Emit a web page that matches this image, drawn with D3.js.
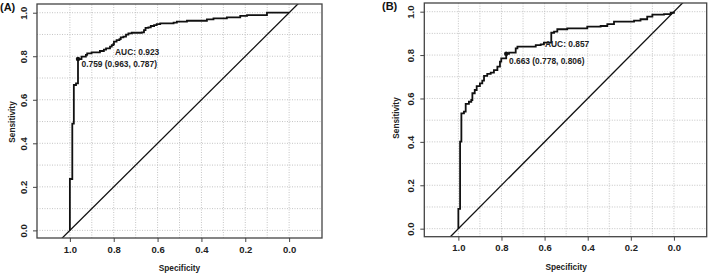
<!DOCTYPE html>
<html>
<head>
<meta charset="utf-8">
<script src="https://cdn.jsdelivr.net/npm/d3@7"></script>
<style>
  body { margin: 0; background: #fff; }
  svg { display: block; font-family: "Liberation Sans", Arial, sans-serif; }
</style>
</head>
<body>
<div id="chart"></div>
<script>
// ROC curve A (specificity, sensitivity)
var specA = [1.000, 1.000, 0.989, 0.989, 0.982, 0.982, 0.972, 0.972, 0.963, 0.963,
  0.954, 0.947, 0.927, 0.921, 0.901, 0.870, 0.863, 0.845, 0.835, 0.817, 0.809, 0.802,
  0.799, 0.787, 0.774, 0.768, 0.756, 0.744, 0.733, 0.718, 0.672, 0.662, 0.655, 0.642,
  0.631, 0.616, 0.604, 0.588, 0.527, 0.512, 0.466, 0.405, 0.375, 0.345, 0.284, 0.223,
  0.192, 0.101, 0.101, 0.000];
var sensA = [0.000, 0.236, 0.236, 0.490, 0.490, 0.668, 0.668, 0.675, 0.675, 0.787,
  0.787, 0.798, 0.806, 0.813, 0.818, 0.818, 0.824, 0.830, 0.836, 0.844, 0.851, 0.855,
  0.867, 0.874, 0.879, 0.887, 0.890, 0.899, 0.905, 0.908, 0.910, 0.920, 0.930, 0.933,
  0.939, 0.943, 0.948, 0.951, 0.954, 0.959, 0.963, 0.963, 0.969, 0.974, 0.979, 0.985,
  0.989, 0.994, 1.000, 1.000];

// ROC curve B
var specB = [1.000, 1.000, 0.992, 0.992, 0.986, 0.986, 0.974, 0.974, 0.966, 0.951,
  0.940, 0.935, 0.924, 0.915, 0.900, 0.889, 0.881, 0.866, 0.850, 0.835, 0.819, 0.807,
  0.801, 0.778, 0.765, 0.734, 0.726, 0.649, 0.641, 0.618, 0.603, 0.572, 0.569, 0.556,
  0.541, 0.495, 0.402, 0.340, 0.309, 0.278, 0.185, 0.155, 0.124, 0.100, 0.046, 0.015, 0.000];
var sensB = [0.000, 0.091, 0.091, 0.401, 0.401, 0.531, 0.531, 0.539, 0.575, 0.585,
  0.593, 0.624, 0.639, 0.657, 0.670, 0.682, 0.704, 0.713, 0.719, 0.731, 0.747, 0.770,
  0.785, 0.806, 0.811, 0.831, 0.839, 0.839, 0.846, 0.849, 0.857, 0.857, 0.903, 0.908,
  0.919, 0.923, 0.931, 0.934, 0.943, 0.954, 0.959, 0.965, 0.977, 0.986, 0.989, 0.995, 1.000];

// best thresholds and AUC
var panelNames = ["(A)", "(B)"];
var aucValues = ["0.923", "0.857"];
var thresholds = ["0.759", "0.663"];
var bestSpec = [0.963, 0.778];
var bestSens = [0.787, 0.806];

var xTicks = [1.0, 0.8, 0.6, 0.4, 0.2, 0.0];
var yTicks = [0.0, 0.2, 0.4, 0.6, 0.8, 1.0];
var gridVals = d3.range(0, 11).map(function(i) { return i / 10; });

var width = 709, height = 275;

var svg = d3.select("#chart").append("svg")
  .attr("width", width)
  .attr("height", height);

// layout for each panel
var panels = [
  { spec: specA, sens: sensA,
    xDom: [1.15, -0.15], xRange: [37, 322], yDom: [-0.035, 1.04], yRange: [238, 4],
    labelX: 0, labelY: 11, ytlX: 23, ytitleX: 12, ytitleY: 122, xtlY: 249, xtitleY: 268,
    aucPos: [0.794, 0.818], thrPos: [0.947, 0.764] },
  { spec: specB, sens: sensB,
    xDom: [1.158, -0.152], xRange: [424.3, 706.7], yDom: [-0.037, 1.04], yRange: [236.7, 3],
    labelX: 382, labelY: 10, ytlX: 410, ytitleX: 396, ytitleY: 118, xtlY: 247, xtitleY: 267,
    aucPos: [0.598, 0.850], thrPos: [0.765, 0.773] }
];

panels.forEach(function(p, i) {
  var x = d3.scaleLinear().domain(p.xDom).range(p.xRange);
  var y = d3.scaleLinear().domain(p.yDom).range(p.yRange);
  var g = svg.append("g");

  // dotted grid
  g.selectAll(".vgrid").data(gridVals).enter().append("line")
    .attr("x1", function(d) { return x(d); })
    .attr("x2", function(d) { return x(d); })
    .attr("y1", p.yRange[0]).attr("y2", p.yRange[1])
    .attr("stroke", "#bdbdbd").attr("stroke-width", 0.9)
    .attr("stroke-dasharray", "1,1.5");
  g.selectAll(".hgrid").data(gridVals).enter().append("line")
    .attr("y1", function(d) { return y(d); })
    .attr("y2", function(d) { return y(d); })
    .attr("x1", p.xRange[0]).attr("x2", p.xRange[1])
    .attr("stroke", "#bdbdbd").attr("stroke-width", 0.9)
    .attr("stroke-dasharray", "1,1.5");

  // clip for the diagonal
  var clipId = "clip" + i;
  svg.append("clipPath").attr("id", clipId).append("rect")
    .attr("x", p.xRange[0]).attr("y", p.yRange[1])
    .attr("width", p.xRange[1] - p.xRange[0])
    .attr("height", p.yRange[0] - p.yRange[1]);

  // chance line
  g.append("line")
    .attr("clip-path", "url(#" + clipId + ")")
    .attr("x1", x(1.2)).attr("y1", y(-0.2))
    .attr("x2", x(-0.2)).attr("y2", y(1.2))
    .attr("stroke", "#111").attr("stroke-width", 1.3);

  // ROC curve
  var pts = p.spec.map(function(s, k) { return [s, p.sens[k]]; });
  var line = d3.line()
    .x(function(d) { return x(d[0]); })
    .y(function(d) { return y(d[1]); })
    .curve(d3.curveStepAfter);
  g.append("path")
    .datum(pts)
    .attr("d", line)
    .attr("fill", "none")
    .attr("stroke", "#111")
    .attr("stroke-width", 1.8);

  // best threshold point
  g.append("circle")
    .attr("cx", x(bestSpec[i])).attr("cy", y(bestSens[i]))
    .attr("r", 2.2).attr("fill", "#111");

  g.append("text")
    .attr("x", x(p.aucPos[0])).attr("y", y(p.aucPos[1]))
    .attr("dy", "0.35em")
    .attr("font-size", 8.4).attr("font-weight", "bold").attr("fill", "#222")
    .text("AUC: " + aucValues[i]);
  g.append("text")
    .attr("x", x(p.thrPos[0])).attr("y", y(p.thrPos[1]))
    .attr("dy", "0.35em")
    .attr("font-size", 8.4).attr("font-weight", "bold").attr("fill", "#222")
    .text(thresholds[i] + " (" + bestSpec[i].toFixed(3) + ", " + bestSens[i].toFixed(3) + ")");

  // box
  g.append("rect")
    .attr("x", p.xRange[0]).attr("y", p.yRange[1])
    .attr("width", p.xRange[1] - p.xRange[0])
    .attr("height", p.yRange[0] - p.yRange[1])
    .attr("fill", "none").attr("stroke", "#444").attr("stroke-width", 1.3);

  // axes
  var xAxis = g.append("g")
    .attr("transform", "translate(0," + p.yRange[0] + ")")
    .call(d3.axisBottom(x).tickValues(xTicks).tickSize(4).tickFormat(d3.format(".1f")));
  xAxis.select(".domain").remove();
  xAxis.selectAll("line").attr("stroke", "#444");
  xAxis.selectAll("text")
    .attr("y", null).attr("dy", null)
    .attr("transform", "translate(0," + (p.xtlY - p.yRange[0]) + ")")
    .attr("dominant-baseline", "central")
    .attr("font-family", null)
    .attr("font-size", 9.5).attr("font-weight", "bold").attr("fill", "#222");

  var yAxis = g.append("g")
    .attr("transform", "translate(" + p.xRange[0] + ",0)")
    .call(d3.axisLeft(y).tickValues(yTicks).tickSize(4).tickFormat(d3.format(".1f")));
  yAxis.select(".domain").remove();
  yAxis.selectAll("line").attr("stroke", "#444");
  yAxis.selectAll("text")
    .attr("x", null).attr("dy", null)
    .attr("text-anchor", "middle")
    .attr("dominant-baseline", "central")
    .attr("transform", "translate(" + (p.ytlX - p.xRange[0]) + ",0) rotate(-90)")
    .attr("font-family", null)
    .attr("font-size", 9.5).attr("font-weight", "bold").attr("fill", "#222");

  // titles
  svg.append("text")
    .attr("transform", "translate(" + p.ytitleX + "," + p.ytitleY + ") rotate(-90)")
    .attr("text-anchor", "middle").attr("dominant-baseline", "central")
    .attr("font-size", 8.3).attr("font-weight", "bold").attr("fill", "#222")
    .text("Sensitivity");
  svg.append("text")
    .attr("x", (x(1) + x(0)) / 2).attr("y", p.xtitleY)
    .attr("text-anchor", "middle").attr("dominant-baseline", "central")
    .attr("font-size", 8.3).attr("font-weight", "bold").attr("fill", "#222")
    .text("Specificity");

  svg.append("text")
    .attr("x", p.labelX).attr("y", p.labelY)
    .attr("font-size", 11).attr("font-weight", "bold").attr("fill", "#111")
    .text(panelNames[i]);
});
</script>
</body>
</html>
